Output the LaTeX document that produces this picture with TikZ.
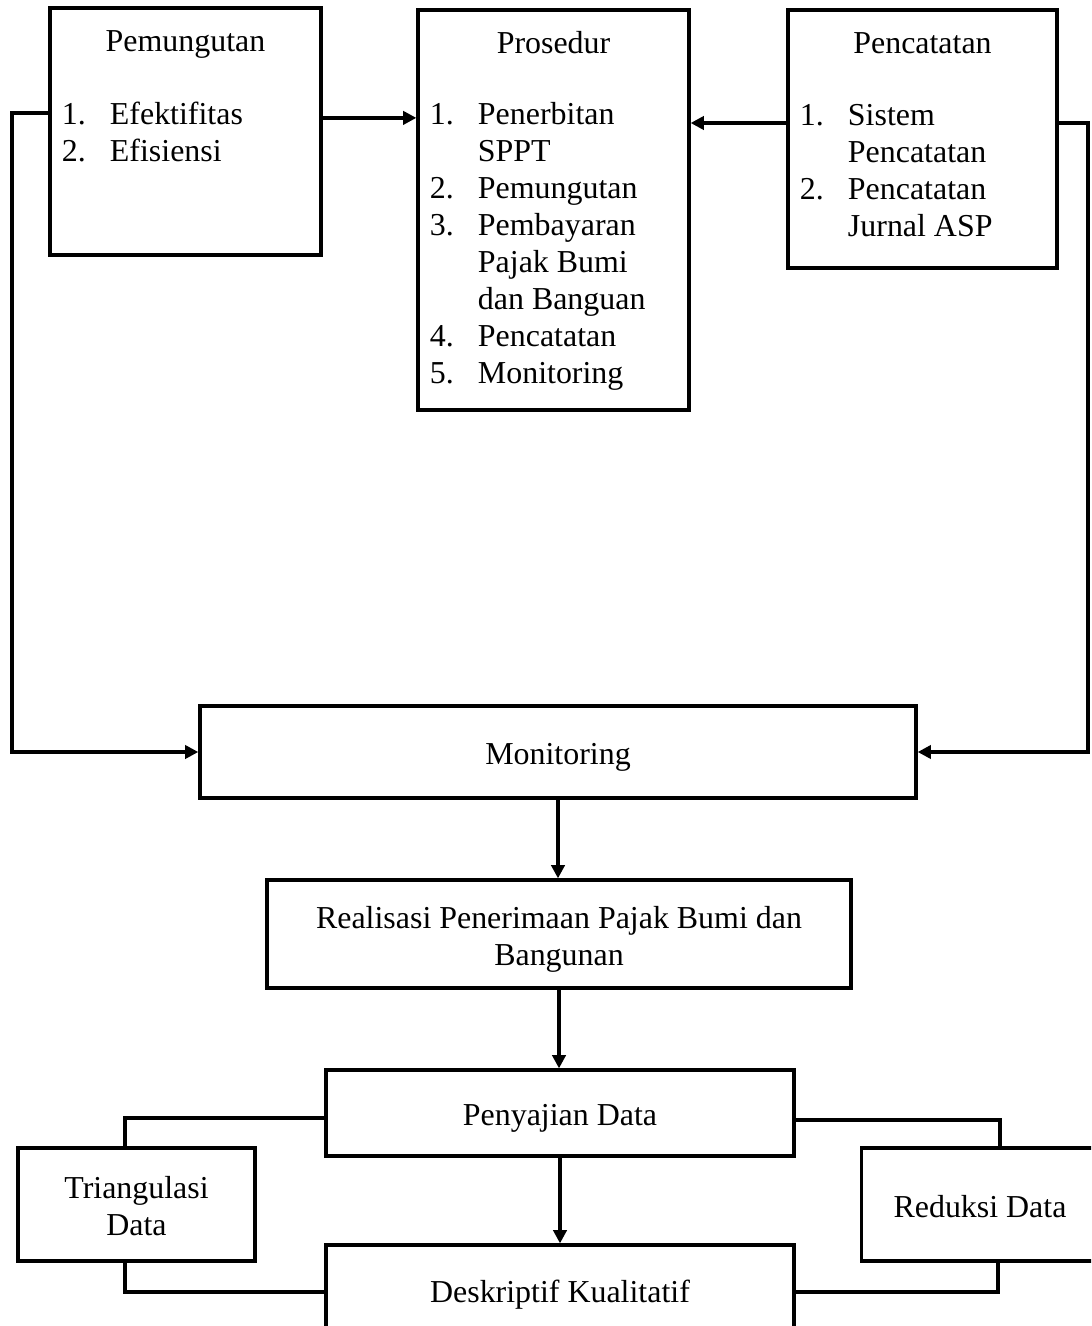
\documentclass[tikz,border=0pt]{standalone}
\usepackage{fontspec}
\setmainfont{Liberation Serif}
\usepackage{array}
\usetikzlibrary{calc,arrows.meta}

\newcommand{\boxfont}{\fontsize{22.7}{26.3}\selectfont}

\begin{document}
\begin{tikzpicture}[x=0.025cm,y=-0.025cm,line width=2.3pt,
        every node/.style={font=\boxfont},
        box/.style={draw,rectangle,inner sep=0pt,text height=23.5pt,text depth=5.7pt},
        title/.style={anchor=base,inner sep=0pt},
        items/.style={anchor=base west,inner sep=0pt},
        arr/.style={-{Triangle[length=0.33cm,width=0.33cm]}}]
        \path[use as bounding box] (0,0) rectangle (1091,1326);
        \clip (0,0) rectangle (1091,1326);

        % upper row
        \node[box,minimum width=6.775cm,minimum height=6.175cm] (pemungutan) at (185.5,131.5) {};
        \node[box,minimum width=6.775cm,minimum height=10cm] (prosedur) at (553.5,210) {};
        \node[box,minimum width=6.725cm,minimum height=6.45cm] (pencatatan) at (922.5,139) {};

        \node[title] (pemungutan-t) at ([yshift=-1.125cm]pemungutan.north) {Pemungutan};
        \node[title] (prosedur-t) at ([yshift=-1.125cm]prosedur.north) {Prosedur};
        \node[title] (pencatatan-t) at ([yshift=-1.125cm]pencatatan.north) {Pencatatan};

        \node[items] (pemungutan-l) at ([xshift=0.3cm,yshift=-2.95cm]pemungutan.north west)
            {\begin{tabular}[t]{@{}p{1.2cm}@{}l@{}}
                1. & Efektifitas\\
                2. & Efisiensi
            \end{tabular}};
        \node[items] (prosedur-l) at ([xshift=0.3cm,yshift=-2.9cm]prosedur.north west)
            {\begin{tabular}[t]{@{}p{1.2cm}@{}l@{}}
                1. & Penerbitan\\
                   & SPPT\\
                2. & Pemungutan\\
                3. & Pembayaran\\
                   & Pajak Bumi\\
                   & dan Banguan\\
                4. & Pencatatan\\
                5. & Monitoring
            \end{tabular}};
        \node[items] (pencatatan-l) at ([xshift=0.3cm,yshift=-2.925cm]pencatatan.north west)
            {\begin{tabular}[t]{@{}p{1.2cm}@{}l@{}}
                1. & Sistem\\
                   & Pencatatan\\
                2. & Pencatatan\\
                   & Jurnal ASP
            \end{tabular}};

        % lower part
        \node[box,minimum width=17.9cm,minimum height=2.3cm] (monitoring) at (558,752) {Monitoring};
        \node[box,minimum width=14.6cm,minimum height=2.7cm] (realisasi) at (559,934)
            {\begin{tabular}{@{}c@{}}Realisasi Penerimaan Pajak Bumi dan\\Bangunan\end{tabular}};
        \node[box,minimum width=11.7cm,minimum height=2.15cm] (penyajian) at (560,1113) {Penyajian Data};
        \node[box,minimum width=11.7cm,minimum height=2.25cm] (deskriptif) at (560,1290) {Deskriptif Kualitatif};
        \node[box,minimum width=5.925cm,minimum height=2.825cm] (triangulasi) at (136.5,1204.5)
            {\begin{tabular}{@{}c@{}}Triangulasi\\Data\end{tabular}};
        \node[box,minimum width=5.925cm,minimum height=2.825cm] (reduksi) at (980,1204.5) {Reduksi Data};

        % connectors
        \coordinate (lft) at (12,113);
        \coordinate (rgt) at (1088,123);
        \coordinate (pem-out) at ([yshift=0.34cm]pemungutan.east);
        \draw[arr] (pem-out) -- (pem-out -| prosedur.west);
        \draw[arr] (rgt -| pencatatan.west) -- (rgt -| prosedur.east);
        \draw[arr] (lft -| pemungutan.west) -- (lft) |- (monitoring.west);
        \draw[arr] (rgt -| pencatatan.east) -- (rgt) |- (monitoring.east);

        \draw[arr] (monitoring.south) -- (monitoring.south |- realisasi.north);
        \draw[arr] (realisasi.south) -- (realisasi.south |- penyajian.north);
        \draw[arr] (penyajian.south) -- (penyajian.south |- deskriptif.north);

        \coordinate (tri-a) at (125,1118);
        \coordinate (tri-b) at (125,1292);
        \coordinate (red-a) at (1000,1120);
        \coordinate (red-b) at (998,1292);
        \draw (tri-a |- triangulasi.north) -- (tri-a) -- (tri-a -| penyajian.west);
        \draw (tri-b |- triangulasi.south) -- (tri-b) -- (tri-b -| deskriptif.west);
        \draw (red-a |- reduksi.north) -- (red-a) -- (red-a -| penyajian.east);
        \draw (red-b |- reduksi.south) -- (red-b) -- (red-b -| deskriptif.east);
\end{tikzpicture}
\end{document}
